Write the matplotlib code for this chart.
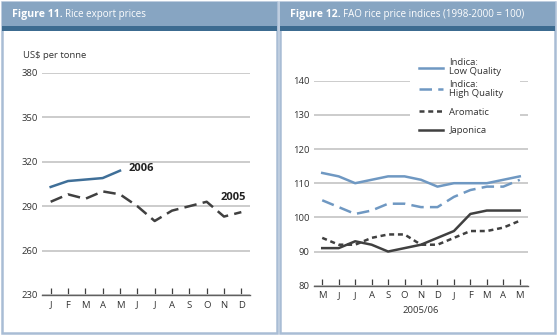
import matplotlib
matplotlib.use('Agg')
import matplotlib.pyplot as plt
from matplotlib.patches import Rectangle

plt.rcParams['font.family'] = ['Open Sans', 'DejaVu Sans']

# data
months_cal = ["J", "F", "M", "A", "M", "J", "J", "A", "S", "O", "N", "D"]
price_2006 = [303, 307, 308, 309, 314]
price_2005 = [293, 298, 295, 300, 298, 290, 280, 287, 290, 293, 283, 286]

months_season = ["M", "J", "J", "A", "S", "O", "N", "D", "J", "F", "M", "A", "M"]
indica_low = [113, 112, 110, 111, 112, 112, 111, 109, 110, 110, 110, 111, 112]
indica_high = [105, 103, 101, 102, 104, 104, 103, 103, 106, 108, 109, 109, 111]
aromatic = [94, 92, 92, 94, 95, 95, 92, 92, 94, 96, 96, 97, 99]
japonica = [91, 91, 93, 92, 90, 91, 92, 94, 96, 101, 102, 102, 102]

W, H = 557, 335
fig = plt.figure(figsize=(W / 100, H / 100), dpi=100)

HEAD = '#87a5c2'
STRIPE = '#3c6b90'
BORDER = '#a9bdd5'
GRID = '#c8c8c8'
DARK = '#404040'
BLUE = '#3f6f98'
LBLUE = '#6f98c2'


def px(x, y, w, h):
    # pixel box (top-left origin) -> figure fraction
    return [x / W, 1 - (y + h) / H, w / W, h / H]


def add_rect(box, **kw):
    fig.patches.append(Rectangle((box[0], box[1]), box[2], box[3],
                                 transform=fig.transFigure, zorder=-5, **kw))


def panel(x0, x1, title_bold, title_rest):
    add_rect(px(x0, 2, x1 - x0, 331), facecolor='white', edgecolor=BORDER, lw=1.8)
    add_rect(px(x0, 2, x1 - x0, 24), facecolor=HEAD, edgecolor='none')
    add_rect(px(x0, 26, x1 - x0, 5), facecolor=STRIPE, edgecolor='none')
    t = fig.text((x0 + 10) / W, 1 - 14.5 / H, title_bold, color='white', fontsize=7.6,
                 fontweight='bold', va='center', ha='left')
    fig.canvas.draw()
    bb = t.get_window_extent()
    fig.text(bb.x1 / W + 2 / W, 1 - 14.5 / H, title_rest, color='white', fontsize=7.0,
             va='center', ha='left')


def style_axes(ax, labels):
    for sp in ['top', 'right', 'left']:
        ax.spines[sp].set_visible(False)
    ax.spines['bottom'].set_color('#606060')
    ax.spines['bottom'].set_linewidth(1.0)
    ax.set_xticks(range(len(labels)))
    ax.set_xticklabels(labels)
    ax.tick_params(axis='x', direction='in', length=5, color='#404040', width=0.9,
                   labelsize=6.8, labelcolor='#333333', pad=4)
    ax.tick_params(axis='y', length=0, labelsize=6.8, labelcolor='#333333', pad=3)
    ax.grid(axis='y', color=GRID, lw=1.3)
    ax.set_axisbelow(True)
    ax.set_facecolor('none')


def white_legend(ax, handles, yc, spacing):
    leg = ax.legend(handles=handles, loc='center left', bbox_to_anchor=(0.447, yc, 0.514, 0),
                    mode='expand', frameon=True, fontsize=6.8, handlelength=2.5,
                    handletextpad=0.7, labelspacing=spacing, borderpad=1.0, borderaxespad=0)
    leg.get_frame().set_facecolor('white')
    leg.get_frame().set_edgecolor('none')
    leg.get_frame().set_alpha(1)
    leg.get_frame().set_boxstyle('square', pad=0)
    for t in leg.get_texts():
        t.set_color('#333333')
        t.set_linespacing(1.0)
    return leg


panel(2, 277, "Figure 11.", "Rice export prices")
panel(280, 555, "Figure 12.", "FAO rice price indices (1998-2000 = 100)")

# left chart
ax1 = fig.add_axes(px(42, 73, 208, 222))
ax1.plot(range(len(price_2005)), price_2005, color=DARK, lw=1.8, dashes=(5, 2.5))
ax1.plot(range(len(price_2006)), price_2006, color=BLUE, lw=1.8)
ax1.set_xlim(-0.5, 11.5)
ax1.set_ylim(230, 380)
ax1.set_yticks([230, 260, 290, 320, 350, 380])
style_axes(ax1, months_cal)
ax1.text(4.5, 315.5, "2006", fontsize=8, fontweight='bold', color='#222222', ha='left', va='center')
ax1.text(9.8, 296, "2005", fontsize=8, fontweight='bold', color='#222222', ha='left', va='center')
fig.text(23 / W, 1 - 56 / H, "US$ per tonne", fontsize=6.8, color='#333333', va='center')

# right chart
ax2 = fig.add_axes(px(314, 80.7, 214, 205))
x = range(len(months_season))
l1, = ax2.plot(x, indica_low, color=LBLUE, lw=1.8, label="Indica:\nLow Quality")
l2, = ax2.plot(x, indica_high, color=LBLUE, lw=1.8, dashes=(5, 2.5), label="Indica:\nHigh Quality")
l3, = ax2.plot(x, aromatic, color=DARK, lw=1.8, dashes=(2, 1.5), label="Aromatic")
l4, = ax2.plot(x, japonica, color=DARK, lw=1.8, label="Japonica")
ax2.set_xlim(-0.5, 12.5)
ax2.set_ylim(80, 140)
ax2.set_yticks([80, 90, 100, 110, 120, 130, 140])
style_axes(ax2, months_season)
ax2.set_xlabel("2005/06", fontsize=6.8, color='#333333', labelpad=4)

leg_a = white_legend(ax2, [l1, l2], 1.0115, 0.4)
ax2.add_artist(leg_a)
white_legend(ax2, [l3, l4], 0.801, 1.0)

fig.savefig('out.png', dpi=100)
